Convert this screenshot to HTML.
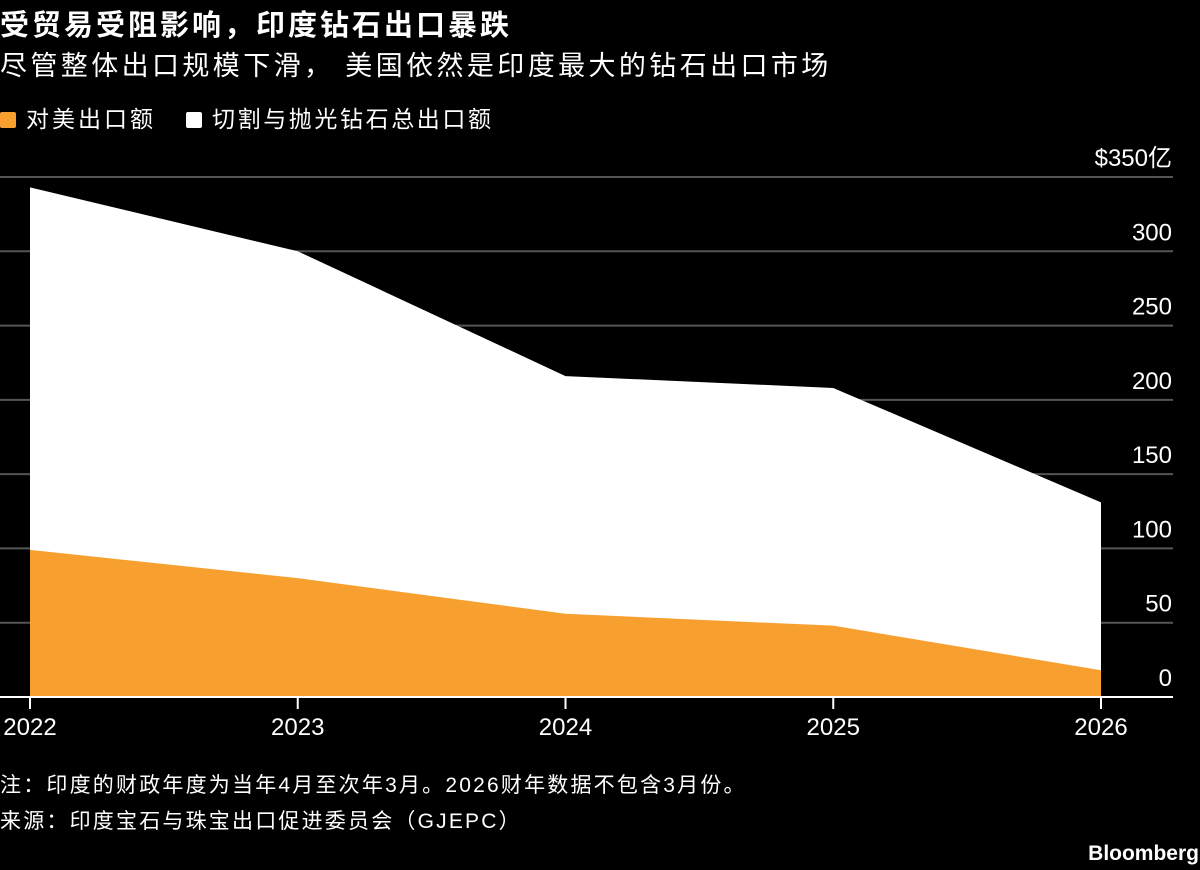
<!DOCTYPE html>
<html><head><meta charset="utf-8"><style>
body{margin:0;background:#000;width:1200px;height:870px;overflow:hidden;font-family:"Liberation Sans","Noto Sans CJK SC",sans-serif;color:#fff}
.t{position:absolute;left:0;white-space:nowrap}
</style></head><body>
<div class="t" style="top:2px;font-size:29px;letter-spacing:3px;font-weight:bold">受贸易受阻影响，印度钻石出口暴跌</div>
<div class="t" style="top:44px;font-size:27px;letter-spacing:3.4px">尽管整体出口规模下滑， 美国依然是印度最大的钻石出口市场</div>
<div class="t" style="top:100px;font-size:23px;letter-spacing:3px"><span style="display:inline-block;width:16px;height:16px;background:#f7a02f;border-radius:2px;vertical-align:-1px;margin-right:10px"></span>对美出口额</div>
<div class="t" style="top:100px;left:186px;font-size:23px;letter-spacing:2.6px"><span style="display:inline-block;width:16px;height:16px;background:#fff;border-radius:2px;vertical-align:-1px;margin-right:10px"></span>切割与抛光钻石总出口额</div>
<svg id="c" width="1200" height="870" style="position:absolute;left:0;top:0"></svg>
<div class="t" style="top:769px;font-size:21px;letter-spacing:2.2px">注：印度的财政年度为当年4月至次年3月。2026财年数据不包含3月份。</div>
<div class="t" style="top:805px;font-size:21px;letter-spacing:2.2px">来源：印度宝石与珠宝出口促进委员会（GJEPC）</div>
<div class="t" style="top:842px;left:auto;right:1px;font-size:21px;font-weight:bold">Bloomberg</div>
<script>
const years=["2022","2023","2024","2025","2026"];
const totalExports=[343,300,216,208,131];
const usExports=[99,80,56,48,18];
const yTicks=[0,50,100,150,200,250,300,350];
const ns="http://www.w3.org/2000/svg",svg=document.getElementById('c');
const x=i=>30+i*(1101-30)/(years.length-1);
const y=v=>697-v*(697-177)/350;
function el(t,a){const e=document.createElementNS(ns,t);for(const k in a)e.setAttribute(k,a[k]);svg.appendChild(e);return e;}
yTicks.forEach(v=>{if(v>0){const g=el('line',{x1:0,x2:1173,y1:y(v),y2:y(v),stroke:'#555','stroke-width':2});

}
const t=el('text',{x:1172,y:y(v)-11,'text-anchor':'end',fill:'#fff','font-size':24,'font-family':'Liberation Sans, Noto Sans CJK SC, sans-serif'});
t.textContent=v===350?'$350亿':String(v);

});
function area(vals,fill,name){let d='M'+x(0)+','+y(0);vals.forEach((v,i)=>d+='L'+x(i)+','+y(v));d+='L'+x(vals.length-1)+','+y(0)+'Z';
const p=el('path',{d:d,fill:fill});

}
area(totalExports,'#fff','total-exports-area');
area(usExports,'#f7a02f','us-exports-area');
const ax=el('line',{x1:0,x2:1173,y1:697,y2:697,stroke:'#fff','stroke-width':2});


years.forEach((yr,i)=>{const tk=el('line',{x1:x(i),x2:x(i),y1:697,y2:709,stroke:'#fff','stroke-width':2});


const t=el('text',{x:x(i),y:735,'text-anchor':'middle',fill:'#fff','font-size':24,'font-family':'Liberation Sans, sans-serif'});
t.textContent=yr;

});
</script>
</body></html>
